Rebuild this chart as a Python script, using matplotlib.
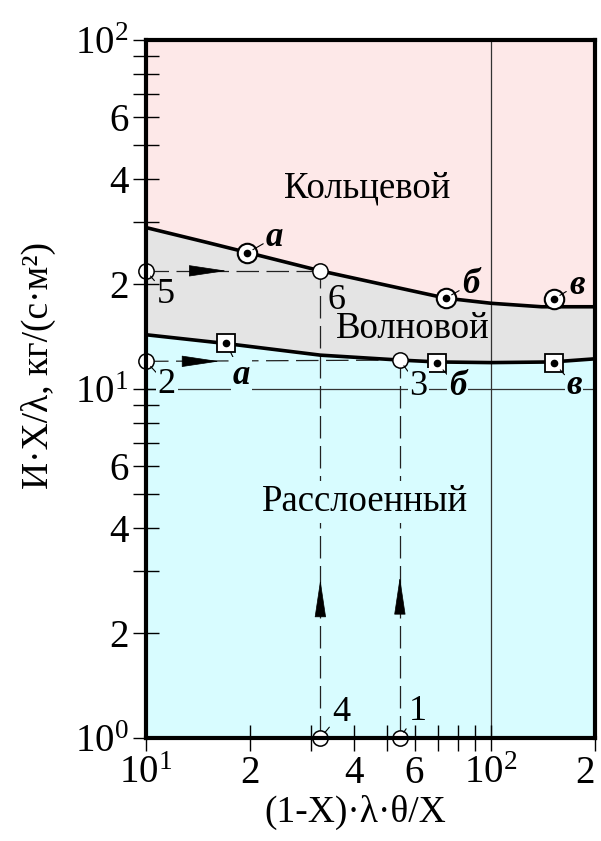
import matplotlib
matplotlib.use("Agg")
import matplotlib.pyplot as plt
from matplotlib.ticker import FixedLocator, FixedFormatter, NullFormatter

plt.rcParams['font.family'] = ['Liberation Serif', 'DejaVu Serif']
plt.rcParams['mathtext.fontset'] = 'custom'
plt.rcParams['mathtext.rm'] = 'Liberation Serif'
plt.rcParams['mathtext.it'] = 'Liberation Serif:italic'

# boundary curves
upper_x = [10, 15, 20, 32, 50, 74, 100, 140, 200]
upper_y = [29, 26.3, 24.5, 21.8, 19.8, 18.2, 17.6, 17.2, 17.2]
lower_x = [10, 17, 32, 54.4, 70, 100, 150, 200]
lower_y = [14.3, 13.5, 12.5, 12.1, 11.95, 11.9, 11.95, 12.2]

# experimental points (а, б, в)
circ_x = [19.6, 73.8, 152]
circ_y = [24.5, 18.2, 18.1]
sq_x = [17.1, 69.5, 152]
sq_y = [13.5, 11.9, 11.9]
letters = ['а', 'б', 'в']

# numbered points 1..6
pt_x = [54.4, 10, 54.4, 32, 10, 32]
pt_y = [1, 12, 12.1, 1, 21.8, 21.8]
pt_names = ['1', '2', '3', '4', '5', '6']
paths = [(0, 2), (1, 2), (3, 5), (4, 5)]   # dashed moves between points

# arrowheads on the dashed paths: (base, tip)
arrows = [((13.6, 21.8), (17.1, 21.8)), ((12.9, 12), (16.3, 12)),
          ((32, 2.25), (32, 2.84)), ((54.4, 2.30), (54.4, 2.89))]

x_ticks = [10, 20, 30, 40, 50, 60, 70, 80, 90, 100, 200]
x_labels = [r'$10^1$', '2', '', '4', '', '6', '', '', '', r'$10^2$', '2']
y_ticks = [1, 2, 3, 4, 5, 6, 7, 8, 9, 10, 20, 30, 40, 50, 60, 70, 80, 90, 100]
y_labels = [r'$10^0$', '2', '', '4', '', '6', '', '', '', r'$10^1$',
            '2', '', '4', '', '6', '', '', '', r'$10^2$']

pink = '#FDE8E8'
grey = '#E4E4E4'
cyan = '#D8FCFF'

fig = plt.figure(figsize=(6.01, 8.41), dpi=100)
ax = fig.add_axes([0.243, 0.1225, 0.747, 0.830])
ax.set_xscale('log')
ax.set_yscale('log')
ax.set_xlim(10, 200)
ax.set_ylim(1, 100)
ax.set_facecolor(grey)

ax.fill_between(upper_x, upper_y, 100, color=pink, lw=0, zorder=0)
ax.fill_between(lower_x, 1, lower_y, color=cyan, lw=0, zorder=0)

ax.axvline(100, color='#333333', lw=0.9, zorder=1)
ax.axhline(10, color='#333333', lw=0.9, zorder=1)

ax.plot(upper_x, upper_y, color='black', lw=2.6, zorder=3)
ax.plot(lower_x, lower_y, color='black', lw=2.6, zorder=3)

for i, j in paths:
    ax.plot([pt_x[i], pt_x[j]], [pt_y[i], pt_y[j]], color='#222222', lw=0.9,
            ls=(0, (18, 6)), zorder=2)

for base, tip in arrows:
    ax.annotate('', xy=tip, xytext=base,
                arrowprops=dict(arrowstyle='-|>,head_length=1.0,head_width=0.15',
                                mutation_scale=25, color='black', lw=0.5,
                                shrinkA=0, shrinkB=0), zorder=4)

# circles with dot on upper curve, squares with dot on lower curve
ax.plot(circ_x, circ_y, 'o', ms=14, mfc='white', mec='black', mew=1.5, zorder=5)
ax.plot(circ_x, circ_y, 'o', ms=4.5, color='black', zorder=6)
ax.plot(sq_x, sq_y, 's', ms=13, mfc='white', mec='black', mew=1.3, zorder=5)
ax.plot(sq_x, sq_y, 'o', ms=4.5, color='black', zorder=6)
ax.plot(pt_x, pt_y, 'o', ms=11, mfc='white', mec='black', mew=1.1, zorder=7,
        clip_on=False)

lead = dict(arrowstyle='-', lw=0.8, color='black', shrinkA=0, shrinkB=5)
circ_off = [(20, 11.5), (18, 10), (16.5, 10)]
sq_off = [(11, -23), (15, -17), (14.5, -16.5)]
for k in range(3):
    ax.annotate(letters[k], (circ_x[k], circ_y[k]), xytext=circ_off[k],
                textcoords='offset points', ha='center', va='center',
                fontsize=25, fontweight='bold', fontstyle='italic',
                arrowprops=lead, zorder=8)
    ax.annotate(letters[k], (sq_x[k], sq_y[k]), xytext=sq_off[k],
                textcoords='offset points', ha='center', va='center',
                fontsize=25, fontweight='bold', fontstyle='italic',
                arrowprops=dict(lead, shrinkB=7), zorder=8,
                bbox=dict(boxstyle='square,pad=0.05', fc=cyan, ec='none'))

pt_off = [(13, 19), (15, -16.5), (13.5, -19), (15, 18), (14.5, -17), (11.5, -21)]
for k in range(6):
    bb = None
    if pt_names[k] in ('2', '3'):
        bb = dict(boxstyle='square,pad=0.05', fc=cyan, ec='none')
    ap = None if pt_names[k] == '6' else dict(lead, shrinkB=5)
    ax.annotate(pt_names[k], (pt_x[k], pt_y[k]), xytext=pt_off[k],
                textcoords='offset points', ha='center', va='center',
                fontsize=26, arrowprops=ap, bbox=bb, zorder=8,
                annotation_clip=False)

ax.text(43.7, 37.7, 'Кольцевой', fontsize=26.5, ha='center', va='center', zorder=4)
ax.text(59.3, 14.9, 'Волновой', fontsize=26.5, ha='center', va='center', zorder=4)
ax.text(43.2, 4.75, 'Расслоенный', fontsize=26.5, ha='center', va='center', zorder=4,
        bbox=dict(boxstyle='square,pad=0.1', fc=cyan, ec='none'))

ax.xaxis.set_major_locator(FixedLocator(x_ticks))
ax.xaxis.set_major_formatter(FixedFormatter(x_labels))
ax.xaxis.set_minor_formatter(NullFormatter())
ax.xaxis.set_minor_locator(FixedLocator([]))
ax.yaxis.set_major_locator(FixedLocator(y_ticks))
ax.yaxis.set_major_formatter(FixedFormatter(y_labels))
ax.yaxis.set_minor_formatter(NullFormatter())
ax.yaxis.set_minor_locator(FixedLocator([]))
ax.tick_params(direction='inout', length=19, width=1.0, labelsize=28, pad=3)
ax.xaxis.get_major_ticks()[-1].label1.set_horizontalalignment('right')

for s in ax.spines.values():
    s.set_linewidth(3)
    s.set_zorder(9)

ax.set_xlabel('(1-X)·λ·θ/X', fontsize=27)
ax.xaxis.set_label_coords(0.465, -0.082)
ax.set_ylabel('И·X/λ, кг/(с·м²)', fontsize=27)
ax.yaxis.set_label_coords(-0.20, 0.534)

fig.savefig('out.png', dpi=100)
